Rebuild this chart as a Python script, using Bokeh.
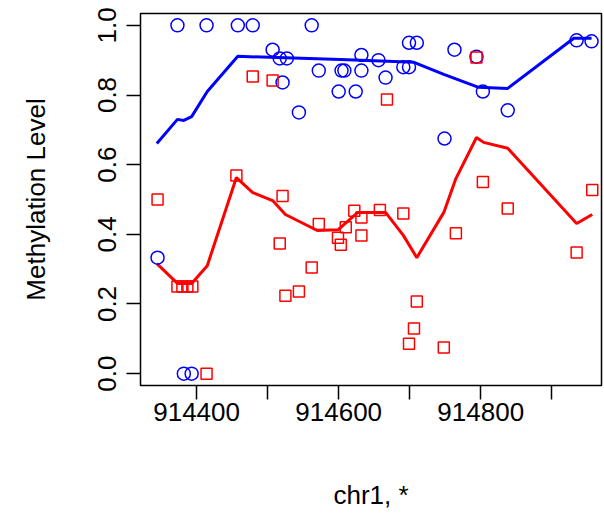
from bokeh.plotting import figure
from bokeh.models import FixedTicker, Range1d
from bokeh.embed import file_html
from bokeh.resources import INLINE

# blue series (circles) and its smoothed line
blue_x = [914345, 914373, 914382, 914393, 914414, 914458, 914479, 914507, 914517, 914527,
          914521, 914544, 914562, 914572, 914600, 914604, 914608, 914624, 914632, 914632,
          914656, 914666, 914691, 914699, 914699, 914710, 914749, 914763, 914794, 914803,
          914838, 914935, 914956]
blue_y = [0.333, 1.0, 0.0, 0.0, 1.0, 1.0, 1.0, 0.93, 0.905, 0.905,
          0.836, 0.75, 1.0, 0.87, 0.81, 0.87, 0.87, 0.81, 0.915, 0.87,
          0.9, 0.85, 0.88, 0.88, 0.95, 0.95, 0.675, 0.93, 0.91, 0.81,
          0.756, 0.957, 0.954]
blue_line_x = [914344, 914373, 914382, 914393, 914415, 914458, 914603, 914706, 914748,
               914797, 914838, 914931, 914956]
blue_line_y = [0.661, 0.73, 0.727, 0.738, 0.81, 0.911, 0.902, 0.894, 0.859,
               0.822, 0.819, 0.963, 0.963]

# red series (squares) and its smoothed line
red_x = [914345, 914373, 914380, 914387, 914394, 914414, 914456, 914517, 914521, 914525,
         914544, 914562, 914572, 914599, 914603, 914610, 914622, 914632, 914632, 914658,
         914691, 914699, 914706, 914710, 914748, 914765, 914803, 914838, 914935, 914957,
         914479, 914507, 914668, 914794]
red_y = [0.5, 0.25, 0.25, 0.25, 0.25, 0.0, 0.569, 0.374, 0.51, 0.224,
         0.236, 0.305, 0.43, 0.39, 0.37, 0.42, 0.468, 0.448, 0.397, 0.47,
         0.46, 0.086, 0.13, 0.207, 0.075, 0.403, 0.55, 0.474, 0.348, 0.527,
         0.853, 0.842, 0.787, 0.908]
red_line_x = [914344, 914373, 914393, 914415, 914456, 914479, 914507, 914525, 914570,
              914599, 914627, 914666, 914691, 914710, 914748, 914765, 914794, 914804,
              914838, 914935, 914957]
red_line_y = [0.316, 0.259, 0.259, 0.31, 0.563, 0.52, 0.497, 0.457, 0.411,
              0.413, 0.463, 0.463, 0.397, 0.333, 0.463, 0.56, 0.678, 0.664,
              0.647, 0.431, 0.457]

x_ticks = [914400, 914500, 914600, 914700, 914800, 914900]
x_labels = {914400: "914400", 914500: "", 914600: "914600", 914700: "", 914800: "914800", 914900: ""}
y_ticks = [0.0, 0.2, 0.4, 0.6, 0.8, 1.0]

p = figure(width=604, height=515, output_backend="svg", toolbar_location=None,
           x_range=Range1d(914321, 914970), y_range=Range1d(-0.034, 1.034),
           min_border_left=140, min_border_right=3, min_border_top=13, min_border_bottom=130,
           x_axis_label="chr1, *", y_axis_label="Methylation Level")
p.grid.visible = False
p.outline_line_color = "black"
p.outline_line_width = 1.5
p.background_fill_color = "white"
p.border_fill_color = "white"

for ax in (p.xaxis[0], p.yaxis[0]):
    ax.axis_line_color = None
    ax.major_tick_out = 14
    ax.major_tick_in = 0
    ax.minor_tick_line_color = None
    ax.major_tick_line_width = 1.5
    ax.major_label_text_font = "Liberation Sans"
    ax.major_label_text_font_size = "26px"
    ax.major_label_text_color = "black"
    ax.axis_label_text_font = "Liberation Sans"
    ax.axis_label_text_font_size = "26px"
    ax.axis_label_text_font_style = "normal"
    ax.axis_label_text_color = "black"
p.xaxis.major_label_standoff = 3
p.xaxis.axis_label_standoff = 56
p.xaxis.ticker = FixedTicker(ticks=x_ticks)
p.xaxis.major_label_overrides = x_labels
p.yaxis.major_label_standoff = 10
p.yaxis.ticker = FixedTicker(ticks=y_ticks)
p.yaxis.major_label_overrides = {t: f"{t:.1f}" for t in y_ticks}
p.yaxis.major_label_orientation = "vertical"
p.yaxis.axis_label_standoff = 45

p.line(blue_line_x, blue_line_y, color="blue", line_width=3)
p.line(red_line_x, red_line_y, color="red", line_width=3)
p.scatter(blue_x, blue_y, marker="circle", size=13, fill_color=None, line_color="blue", line_width=1.5)
p.scatter(red_x, red_y, marker="square", size=11, fill_color=None, line_color="red", line_width=1.5)

open("out.html", "w").write(file_html(p, INLINE))
